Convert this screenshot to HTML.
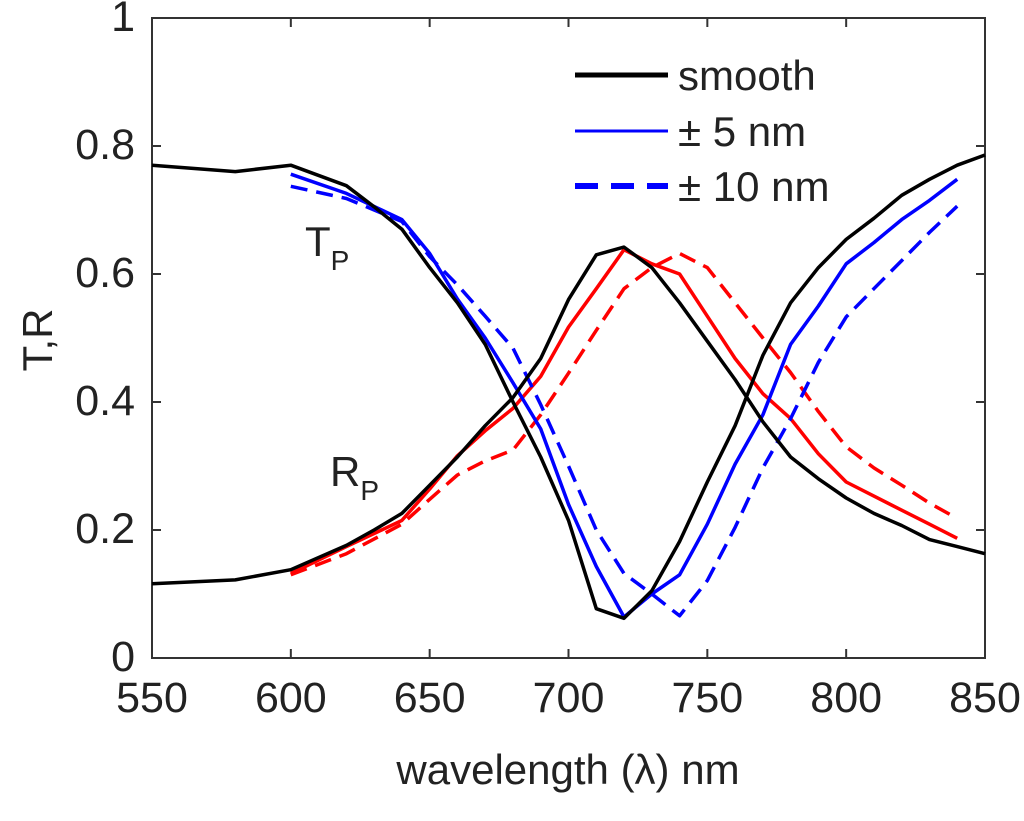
<!DOCTYPE html>
<html><head><meta charset="utf-8"><style>
body{margin:0;background:#fff}
svg{display:block;font-family:"Liberation Sans",Arial,sans-serif}
</style></head><body>
<svg id="chart" width="1024" height="821" viewBox="0 0 1024 821">
<g id="axes"></g>
<g id="series"></g>
<g id="legend">
<line x1="575" y1="75" x2="668" y2="75" stroke="#000" stroke-width="5"/>
<text x="678" y="90" font-size="42" fill="#222">smooth</text>
<line x1="575" y1="131" x2="668" y2="131" stroke="#0000ff" stroke-width="3"/>
<text x="678" y="146" font-size="42" fill="#222">± 5 nm</text>
<line x1="575" y1="186" x2="668" y2="186" stroke="#0000ff" stroke-width="6" stroke-dasharray="23,13"/>
<text x="678" y="201" font-size="42" fill="#222">± 10 nm</text>
</g>
<text x="305" y="256" font-size="42" fill="#222">T<tspan font-size="28" dy="14">P</tspan></text>
<text x="330" y="486" font-size="42" fill="#222">R<tspan font-size="28" dy="14">P</tspan></text>
<text x="568" y="784" font-size="42" text-anchor="middle" fill="#222">wavelength (λ) nm</text>
<text x="0" y="0" font-size="42" text-anchor="middle" fill="#222" transform="translate(52,340) rotate(-90)">T,R</text>
</svg>
<script>
const xTicks=[550,600,650,700,750,800,850];
const yTicks=[0,0.2,0.4,0.6,0.8,1];
const yTickLabels=["0","0.2","0.4","0.6","0.8","1"];
const wlFull=[550,580,600,620,630,640,650,660,670,680,690,700,710,720,730,740,750,760,770,780,790,800,810,820,830,840,850];
const tSmooth=[0.770,0.760,0.770,0.738,0.705,0.670,0.610,0.555,0.490,0.400,0.314,0.215,0.077,0.062,0.105,0.182,0.275,0.363,0.473,0.555,0.610,0.654,0.687,0.723,0.748,0.770,0.786];
const rSmooth=[0.116,0.122,0.138,0.176,0.200,0.226,0.270,0.314,0.363,0.407,0.468,0.560,0.630,0.642,0.610,0.555,0.495,0.435,0.369,0.314,0.280,0.250,0.226,0.207,0.185,0.174,0.163];
const wlVar=[600,620,640,650,660,670,680,690,700,710,720,730,740,750,760,770,780,790,800,810,820,830,840];
const t5=[0.756,0.726,0.685,0.632,0.561,0.500,0.430,0.358,0.240,0.143,0.064,0.100,0.130,0.209,0.303,0.380,0.490,0.550,0.616,0.649,0.685,0.715,0.748];
const t10=[0.737,0.718,0.682,0.627,0.583,0.534,0.484,0.396,0.300,0.200,0.132,0.100,0.066,0.121,0.204,0.297,0.374,0.462,0.533,0.577,0.621,0.665,0.706];
const r5=[0.132,0.174,0.215,0.264,0.316,0.355,0.390,0.440,0.517,0.577,0.638,0.616,0.600,0.534,0.468,0.413,0.374,0.319,0.275,0.253,0.231,0.209,0.187];
const r10=[0.130,0.163,0.209,0.248,0.286,0.308,0.325,0.380,0.445,0.512,0.577,0.610,0.632,0.610,0.555,0.500,0.446,0.385,0.330,0.297,0.270,0.242,0.218];

const L=152,R=985,T=18,B=658;
const X=v=>L+(v-550)/300*(R-L);
const Y=v=>B-v*(B-T);
const NS="http://www.w3.org/2000/svg";
function mk(tag,attrs,parent){const e=document.createElementNS(NS,tag);for(const k in attrs)e.setAttribute(k,attrs[k]);parent.appendChild(e);return e;}
const axes=document.getElementById('axes');
const box=mk('rect',{x:L,y:T,width:R-L,height:B-T,fill:'none',stroke:'#333','stroke-width':2},axes);


xTicks.forEach(t=>{
  const x=X(t);
  const l1=mk('line',{x1:x,y1:B,x2:x,y2:B-9,stroke:'#333','stroke-width':2},axes);
  
  
  const l2=mk('line',{x1:x,y1:T,x2:x,y2:T+9,stroke:'#333','stroke-width':2},axes);
  
  
  const tx=mk('text',{x:x,y:B+54,'font-size':43,'text-anchor':'middle',fill:'#222'},axes);
  tx.textContent=String(t);
  
  
});
yTicks.forEach((t,i)=>{
  const y=Y(t);
  const l1=mk('line',{x1:L,y1:y,x2:L+9,y2:y,stroke:'#333','stroke-width':2},axes);
  
  
  const l2=mk('line',{x1:R,y1:y,x2:R-9,y2:y,stroke:'#333','stroke-width':2},axes);
  
  
  const tx=mk('text',{x:L-17,y:y+13,'font-size':43,'text-anchor':'end',fill:'#222'},axes);
  tx.textContent=yTickLabels[i];
  
  
});
const series=document.getElementById('series');
function line(xs,ys,color,dash,name){
  const d=xs.map((x,i)=>(i?'L':'M')+X(x).toFixed(1)+','+Y(ys[i]).toFixed(1)).join(' ');
  const p=mk('path',{d:d,fill:'none',stroke:color,'stroke-width':3.5,'stroke-linejoin':'round'},series);
  if(dash)p.setAttribute('stroke-dasharray',dash);
  
  
}
line(wlVar,r10,'#ff0000','17,9','r-10nm-line');
line(wlVar,r5,'#ff0000',null,'r-5nm-line');
line(wlVar,t10,'#0000ff','17,9','t-10nm-line');
line(wlVar,t5,'#0000ff',null,'t-5nm-line');
line(wlFull,tSmooth,'#000',null,'t-smooth-line');
line(wlFull,rSmooth,'#000',null,'r-smooth-line');
</script>
</body></html>
